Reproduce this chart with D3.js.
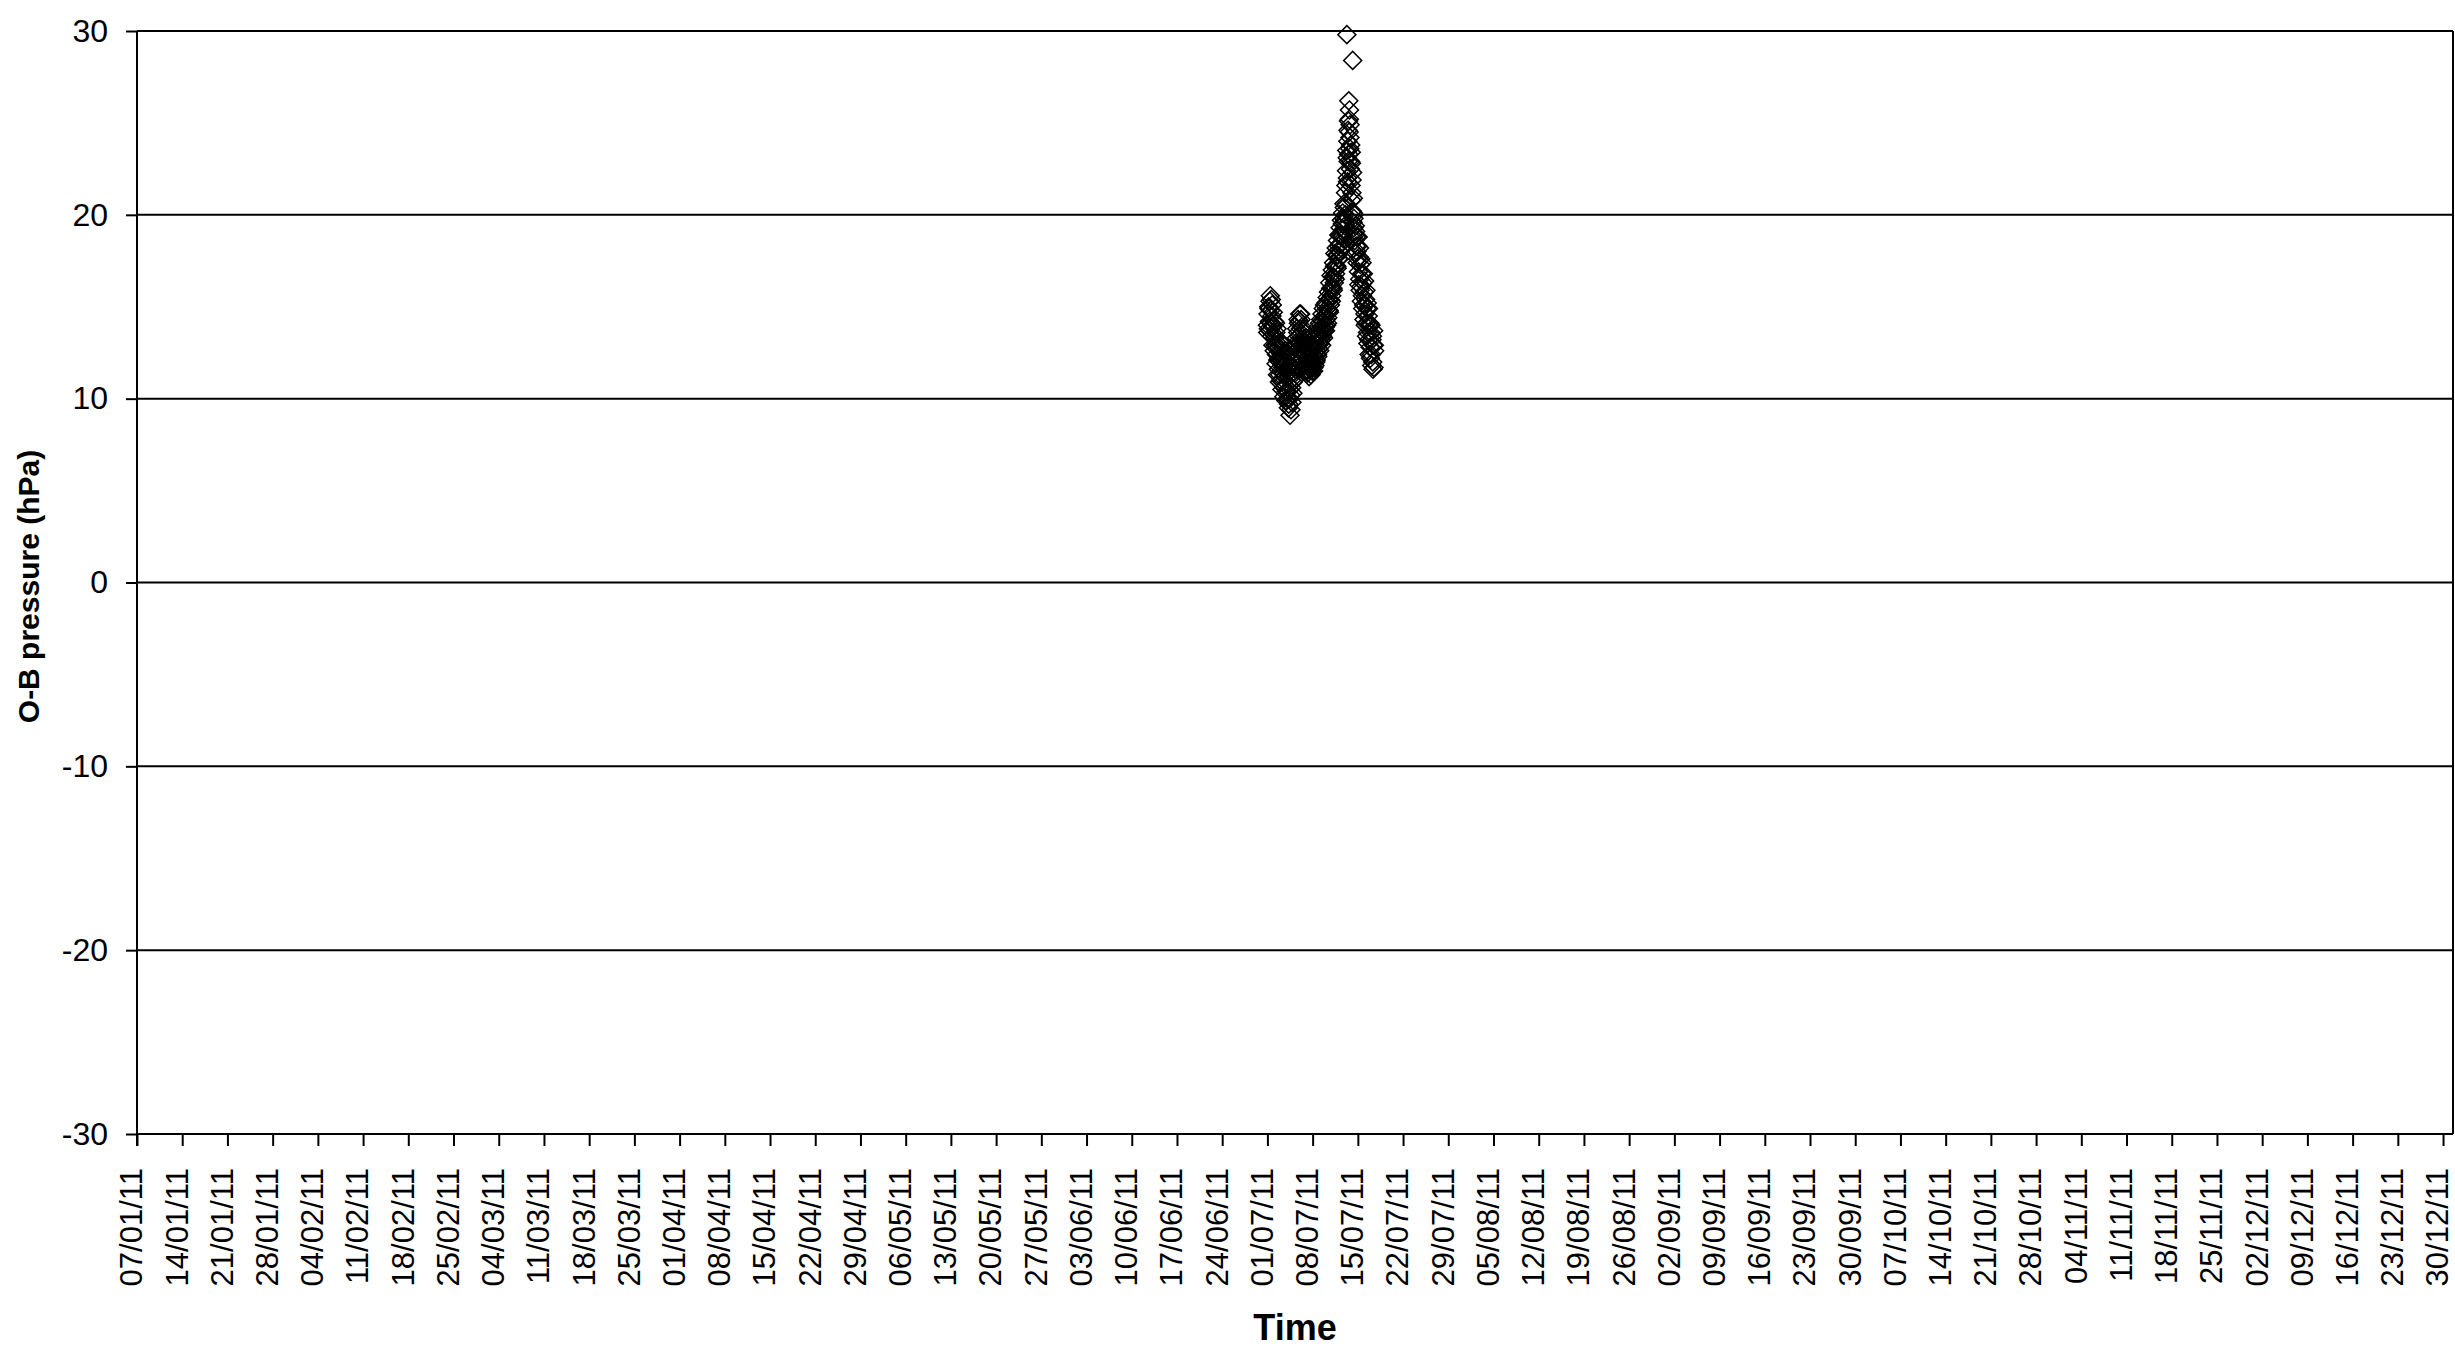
<!DOCTYPE html>
<html>
<head>
<meta charset="utf-8">
<script src="https://cdn.jsdelivr.net/npm/d3@7"></script>
<style>
  html, body { margin: 0; padding: 0; background: #fff; }
  svg { display: block; }
  text { font-family: Arial, "Liberation Sans", sans-serif; fill: #000; }
</style>
</head>
<body>
<svg id="chart" width="2455" height="1347"></svg>
<script>
// ---- data ----
const xTickLabels = ["07/01/11","14/01/11","21/01/11","28/01/11","04/02/11","11/02/11","18/02/11","25/02/11",
  "04/03/11","11/03/11","18/03/11","25/03/11","01/04/11","08/04/11","15/04/11","22/04/11","29/04/11",
  "06/05/11","13/05/11","20/05/11","27/05/11","03/06/11","10/06/11","17/06/11","24/06/11","01/07/11",
  "08/07/11","15/07/11","22/07/11","29/07/11","05/08/11","12/08/11","19/08/11","26/08/11","02/09/11",
  "09/09/11","16/09/11","23/09/11","30/09/11","07/10/11","14/10/11","21/10/11","28/10/11","04/11/11",
  "11/11/11","18/11/11","25/11/11","02/12/11","09/12/11","16/12/11","23/12/11","30/12/11"];
const yTicks = [-30, -20, -10, 0, 10, 20, 30];
const yTitle = "O-B pressure (hPa)";
const xTitle = "Time";

// observation time: day of July 2011 (fractional), and O-B value (hPa)
const obsDay = [
  1.0,1.05,1.1,1.2,1.3,1.4,1.5,1.6,1.7,1.8,1.9,2.0,2.1,2.2,2.3,2.4,2.5,2.6,2.7,2.8,2.9,
  3.0,3.1,3.2,3.3,3.4,3.5,3.6,3.7,3.8,3.9,4.0,4.1,4.2,4.3,4.4,4.5,4.6,4.7,4.8,4.9,
  5.0,5.1,5.2,5.3,5.4,5.5,5.6,5.7,5.8,5.9,6.0,6.1,6.2,6.3,6.4,6.5,6.6,6.7,6.8,6.9,
  7.0,7.1,7.2,7.3,7.4,7.5,7.6,7.7,7.8,7.9,
  8.0,8.1,8.2,8.3,8.4,8.5,8.6,8.7,8.8,8.9,
  9.0,9.1,9.2,9.3,9.4,9.5,9.6,9.7,9.8,9.9,
  10.0,10.1,10.2,10.3,10.4,10.5,10.6,10.7,10.8,10.9,
  11.0,11.1,11.2,11.3,11.4,11.5,11.6,11.7,11.8,11.9,
  12.0,12.1,12.2,12.3,12.4,12.5,12.6,12.7,12.8,12.9,
  13.0,13.1,13.2,13.25,13.3,13.35,13.4,13.45,13.5,13.55,13.6,13.65,13.7,13.75,13.8,13.85,13.9,13.95,
  14.0,14.05,14.1,14.15,14.2,14.25,14.3,14.35,14.4,14.5,14.6,14.7,14.8,14.9,
  15.0,15.1,15.2,15.3,15.4,15.5,15.6,15.7,15.8,15.9,16.0,16.1,16.2,16.3,16.4,16.5,16.6,16.7,16.8,16.9,
  17.0,17.1,17.2,17.3,17.4,17.5,17.6,
  // second observation set
  1.15,1.25,1.35,1.45,1.55,1.65,1.75,1.85,1.95,2.05,2.15,2.25,2.35,2.45,2.55,2.65,2.75,2.85,2.95,
  3.05,3.15,3.25,3.35,3.45,3.55,3.65,3.75,3.85,3.95,4.05,4.15,4.25,4.35,4.45,4.55,4.65,4.75,4.85,4.95,
  5.05,5.15,5.25,5.35,5.45,5.55,5.65,5.75,5.85,5.95,6.05,6.15,6.25,6.35,6.45,6.55,6.65,6.75,6.85,6.95,
  7.05,7.15,7.25,7.35,7.45,7.55,7.65,7.75,7.85,7.95,
  8.05,8.15,8.25,8.35,8.45,8.55,8.65,8.75,8.85,8.95,
  9.05,9.15,9.25,9.35,9.45,9.55,9.65,9.75,9.85,9.95,
  10.05,10.15,10.25,10.35,10.45,10.55,10.65,10.75,10.85,10.95,
  11.05,11.15,11.25,11.35,11.45,11.55,11.65,11.75,11.85,11.95,
  12.05,12.15,12.25,12.35,12.45,12.55,12.65,12.75,12.85,12.95,
  13.05,13.15,13.28,13.38,13.48,13.58,13.68,13.78,13.88,13.98,
  14.08,14.18,14.28,14.38,14.45,14.55,14.65,14.75,14.85,14.95,
  15.05,15.15,15.25,15.35,15.45,15.55,15.65,15.75,15.85,15.95,
  16.05,16.15,16.25,16.35,16.45,16.55,16.65,16.75,16.85,16.95,
  17.05,17.15,17.25,17.35,17.45,17.55];
const obsValue = [
  14.0,13.6,14.6,15.0,14.2,15.3,14.8,15.4,14.5,13.9,14.7,13.5,14.2,12.9,13.6,12.4,13.8,12.1,11.6,12.8,11.3,
  12.5,13.1,11.9,10.9,12.2,11.4,10.6,11.8,12.6,10.4,11.1,10.0,11.6,9.7,10.5,9.1,10.2,11.0,9.8,12.0,
  10.9,11.7,12.8,11.4,12.4,13.3,12.2,13.6,14.1,13.0,14.6,13.8,14.3,13.2,12.6,13.7,12.0,12.9,11.8,12.5,
  13.3,11.5,12.2,12.9,11.9,12.4,11.6,12.0,12.7,11.7,
  12.0,12.8,11.7,12.3,13.0,12.0,12.6,13.3,12.3,13.0,
  13.5,12.6,13.3,13.9,12.9,13.6,14.2,13.3,14.0,14.5,
  13.7,14.3,14.9,14.1,14.8,15.4,14.7,15.4,16.0,15.3,
  16.0,16.6,15.9,16.6,17.2,16.5,17.2,17.8,17.1,17.8,
  18.3,17.6,18.4,18.9,18.2,18.9,19.5,18.7,19.8,20.4,
  19.4,21.2,20.6,22.4,29.8,23.1,21.8,24.0,22.9,25.1,26.2,24.5,25.7,23.6,24.9,22.5,23.8,21.6,
  22.8,20.8,21.9,20.2,28.4,19.6,20.9,18.8,19.8,18.6,19.4,17.9,18.8,17.4,
  18.3,16.9,17.7,16.5,17.3,16.1,16.8,15.6,16.3,15.1,15.8,14.6,15.4,14.1,14.9,13.6,14.5,13.2,14.0,12.8,
  13.6,12.4,13.2,12.0,12.9,11.7,12.6,
  // second observation set
  13.8,14.9,13.7,15.6,14.1,13.4,15.1,12.9,14.0,12.6,13.3,14.1,11.9,12.9,11.3,13.0,12.2,10.9,12.0,
  11.0,12.4,10.5,11.7,12.9,10.1,11.2,12.0,9.9,11.5,12.4,10.8,9.5,11.2,10.0,11.8,9.4,10.6,11.4,10.3,
  12.1,11.0,12.0,13.0,11.8,13.8,12.7,14.3,13.4,14.2,13.0,14.6,12.9,13.9,12.2,13.1,12.4,11.5,13.1,11.9,
  12.7,11.6,11.4,12.3,11.2,12.8,11.9,11.3,12.2,11.5,
  12.9,11.5,13.1,11.8,13.4,12.1,13.6,12.4,13.9,12.7,
  14.1,13.0,14.3,13.2,14.6,13.4,14.9,13.7,15.1,13.9,
  15.2,14.0,15.5,14.4,15.8,14.8,16.3,15.1,16.7,15.6,
  17.0,16.0,17.4,16.3,17.9,16.8,18.2,17.2,18.6,17.6,
  18.9,18.0,19.3,18.4,19.7,18.8,20.1,19.2,20.6,19.7,
  20.0,21.6,23.5,22.0,24.6,23.3,25.2,24.2,22.9,23.4,
  21.2,22.3,20.1,19.3,20.0,18.9,19.1,18.3,18.0,17.6,
  18.8,16.2,18.2,15.9,17.6,15.3,17.4,14.9,16.8,14.3,
  16.4,14.0,15.9,13.4,15.2,13.0,14.9,12.4,14.1,12.2,
  14.0,11.8,13.4,11.6,13.7,12.9];

// ---- layout ----
const svg = d3.select("#chart");
const pLeft = 137, pRight = 2453, pTop = 31, pBottom = 1134;
const parse = d3.utcParse("%d/%m/%y");
const fmt = d3.utcFormat("%d/%m/%y");
const tickDates = xTickLabels.map(parse);

const x = d3.scaleUtc()
  .domain([parse("07/01/11"), new Date(Date.UTC(2011, 11, 31, 13))])
  .range([pLeft, pRight]);
const y = d3.scaleLinear().domain([-30, 30]).range([pBottom, pTop]);

// gridlines
svg.append("g").selectAll("line").data(yTicks).join("line")
  .attr("x1", pLeft).attr("x2", pRight)
  .attr("y1", d => y(d)).attr("y2", d => y(d))
  .attr("stroke", "#000").attr("stroke-width", 2);

// right border
svg.append("line").attr("x1", pRight).attr("x2", pRight).attr("y1", pTop).attr("y2", pBottom)
  .attr("stroke", "#000").attr("stroke-width", 2);

// y axis
const yAxis = svg.append("g").attr("transform", `translate(${pLeft},0)`)
  .call(d3.axisLeft(y).tickValues(yTicks).tickSize(11).tickPadding(18).tickFormat(d => String(d)));
yAxis.select(".domain").attr("stroke-width", 2).attr("d", `M0,${pTop}V${pBottom + 12}`);
yAxis.selectAll(".tick line").attr("stroke-width", 2);
yAxis.selectAll(".tick text").style("font-size", "32px").style("font-family", "Arial, 'Liberation Sans', sans-serif");

// x axis
const xAxis = svg.append("g").attr("transform", `translate(0,${pBottom})`)
  .call(d3.axisBottom(x).tickValues(tickDates).tickSize(12).tickFormat(fmt));
xAxis.select(".domain").attr("stroke-width", 2).attr("d", `M${pLeft},0H${pRight}`);
xAxis.selectAll(".tick line").attr("stroke-width", 2);
xAxis.selectAll(".tick text")
  .style("font-size", "31px").style("font-family", "Arial, 'Liberation Sans', sans-serif")
  .attr("text-anchor", "end")
  .attr("transform", "rotate(-90)")
  .attr("x", -34).attr("y", -6).attr("dy", "0.35em");

// points
const pts = obsDay.map((d, i) => ({ t: new Date(Date.UTC(2011, 6, 1) + (d - 1) * 86400000), v: obsValue[i] }));
const diamond = d3.symbol(d3.symbolSquare, 162);
svg.append("g").selectAll("path").data(pts).join("path")
  .attr("d", diamond)
  .attr("transform", d => `translate(${x(d.t)},${y(d.v)}) rotate(45)`)
  .attr("fill", "none").attr("stroke", "#000").attr("stroke-width", 1.5);

// titles
svg.append("text").attr("x", (pLeft + pRight) / 2).attr("y", 1340)
  .attr("text-anchor", "middle").style("font-size", "36px").style("font-weight", "bold").text(xTitle);
svg.append("text").attr("transform", `translate(39,${(pTop + pBottom) / 2 + 4}) rotate(-90)`)
  .attr("text-anchor", "middle").style("font-size", "30px").style("font-weight", "bold").text(yTitle);
</script>
</body>
</html>
